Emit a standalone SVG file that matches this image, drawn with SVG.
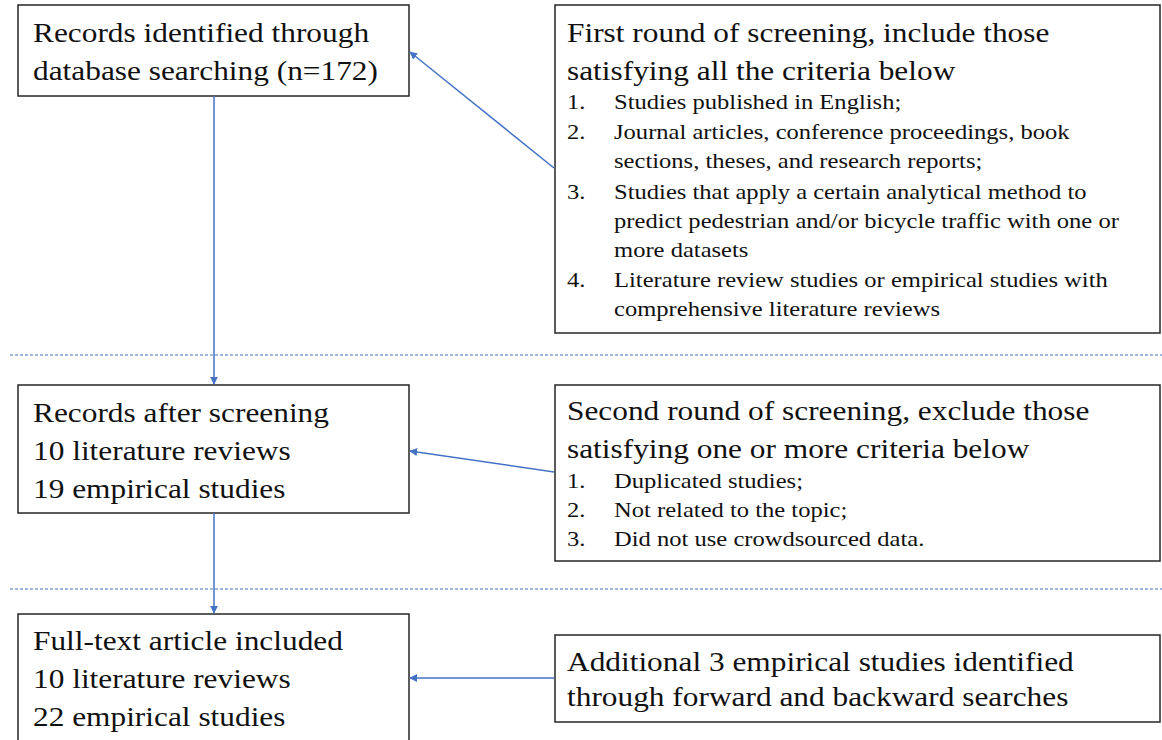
<svg xmlns="http://www.w3.org/2000/svg" width="1162" height="740" viewBox="0 0 1162 740">
<style>
.box{fill:#fff;stroke:#262626;stroke-width:1.5}
.t{font-family:"Liberation Serif","Times New Roman",serif;fill:#111}
.big{font-size:28px}
.sm{font-size:21px}
.con{stroke:#4472C4;stroke-width:1.5;fill:none}
.dash{stroke:#4472C4;stroke-width:1.2;stroke-dasharray:3,2;fill:none}
</style>
<defs>
<marker id="ah" viewBox="0 0 10 10" refX="9" refY="5" markerWidth="8" markerHeight="8" markerUnits="userSpaceOnUse" orient="auto">
<path d="M0,0 L10,5 L0,10 z" fill="#4472C4"/>
</marker>
</defs>
<line class="dash" x1="10" y1="355" x2="1162" y2="355"/>
<line class="dash" x1="10" y1="589" x2="1162" y2="589"/>
<g id="n1">
<rect class="box" x="18" y="5" width="391" height="91"/>
<g class="t big" transform="translate(33 0) scale(1.12 1)">
<text x="0" y="42">Records identified through</text>
<text x="0" y="80">database searching (n=172)</text>
</g>
</g>
<g id="nA">
<rect class="box" x="555" y="5" width="605" height="328"/>
<g class="t big" transform="translate(567 0) scale(1.12 1)">
<text x="0" y="42">First round of screening, include those</text>
<text x="0" y="80">satisfying all the criteria below</text>
</g>
<g class="t sm" transform="translate(567 0) scale(1.17 1)">
<text x="0" y="109">1.</text><text x="40.2" y="109">Studies published in English;</text>
<text x="0" y="139">2.</text><text x="40.2" y="139">Journal articles, conference proceedings, book</text>
<text x="40.2" y="168">sections, theses, and research reports;</text>
<text x="0" y="199">3.</text><text x="40.2" y="199">Studies that apply a certain analytical method to</text>
<text x="40.2" y="228">predict pedestrian and/or bicycle traffic with one or</text>
<text x="40.2" y="257">more datasets</text>
<text x="0" y="287">4.</text><text x="40.2" y="287">Literature review studies or empirical studies with</text>
<text x="40.2" y="316">comprehensive literature reviews</text>
</g>
</g>
<g id="n2">
<rect class="box" x="18" y="385" width="391" height="128"/>
<g class="t big" transform="translate(33 0) scale(1.12 1)">
<text x="0" y="422">Records after screening</text>
<text x="0" y="460">10 literature reviews</text>
<text x="0" y="498">19 empirical studies</text>
</g>
</g>
<g id="nB">
<rect class="box" x="555" y="385" width="605" height="176"/>
<g class="t big" transform="translate(567 0) scale(1.12 1)">
<text x="0" y="420">Second round of screening, exclude those</text>
<text x="0" y="458">satisfying one or more criteria below</text>
</g>
<g class="t sm" transform="translate(567 0) scale(1.17 1)">
<text x="0" y="488">1.</text><text x="40.2" y="488">Duplicated studies;</text>
<text x="0" y="517">2.</text><text x="40.2" y="517">Not related to the topic;</text>
<text x="0" y="546">3.</text><text x="40.2" y="546">Did not use crowdsourced data.</text>
</g>
</g>
<g id="n3">
<rect class="box" x="18" y="614" width="391" height="140"/>
<g class="t big" transform="translate(33 0) scale(1.12 1)">
<text x="0" y="650">Full-text article included</text>
<text x="0" y="688">10 literature reviews</text>
<text x="0" y="726">22 empirical studies</text>
</g>
</g>
<g id="nC">
<rect class="box" x="555" y="635" width="605" height="87"/>
<g class="t big" transform="translate(567 0) scale(1.12 1)">
<text x="0" y="671">Additional 3 empirical studies identified</text>
<text x="0" y="706">through forward and backward searches</text>
</g>
</g>
<g id="connectors">
<line class="con" x1="214" y1="96" x2="214" y2="384" marker-end="url(#ah)"/>
<line class="con" x1="214" y1="513" x2="214" y2="613" marker-end="url(#ah)"/>
<line class="con" x1="554" y1="168" x2="410" y2="52" marker-end="url(#ah)"/>
<line class="con" x1="554" y1="472" x2="410" y2="451" marker-end="url(#ah)"/>
<line class="con" x1="554" y1="678" x2="410" y2="678" marker-end="url(#ah)"/>
</g>
</svg>
